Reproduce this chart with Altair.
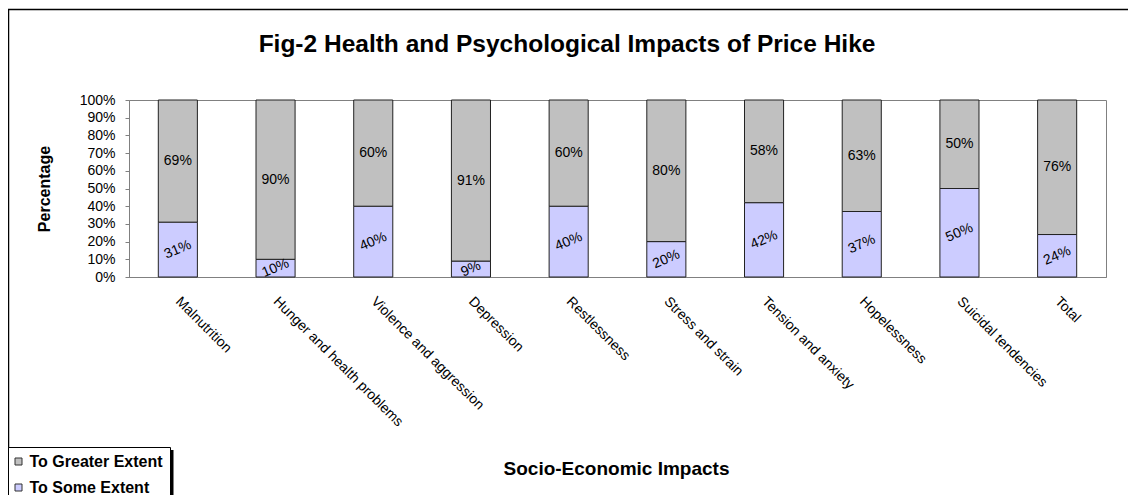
import altair as alt
import pandas as pd

categories = ["Malnutrition", "Hunger and health problems", "Violence and aggression",
              "Depression", "Restlessness", "Stress and strain", "Tension and anxiety",
              "Hopelessness", "Suicidal tendencies", "Total"]
some_extent = [31, 10, 40, 9, 40, 20, 42, 37, 50, 24]
greater_extent = [69, 90, 60, 91, 60, 80, 58, 63, 50, 76]
series = ["To Greater Extent", "To Some Extent"]
colors = ["#C0C0C0", "#CCCCFF"]
y_ticks = [0, 10, 20, 30, 40, 50, 60, 70, 80, 90, 100]
title_text = "Fig-2 Health and Psychological Impacts of Price Hike"

rows = []
for c, s, g in zip(categories, some_extent, greater_extent):
    rows.append({"category": c, "series": "To Some Extent", "value": s, "ord": 0})
    rows.append({"category": c, "series": "To Greater Extent", "value": g, "ord": 1})
df = pd.DataFrame(rows)

FONT = "Liberation Sans"

base = alt.Chart(df).transform_stack(
    stack="value", groupby=["category"], as_=["y0", "y1"],
    sort=[alt.SortField("ord", order="ascending")]
).transform_calculate(mid="(datum.y0 + datum.y1) / 2", label="datum.value + '%'")

yscale = alt.Scale(domain=[0, 100], nice=False)
xscale = alt.Scale(paddingInner=0.6, paddingOuter=0.3)

xaxis = alt.Axis(title="Socio-Economic Impacts", labelAngle=45, labelAlign="left",
                 labelBaseline="middle", labelPadding=22, ticks=False,
                 labelFontSize=14, labelFont=FONT, labelColor="#000",
                 domainColor="#808080", titleFont=FONT, titleFontSize=19,
                 titleFontWeight="bold", titleColor="#000", titleX=487, titleY=191,
                 titleBaseline="middle", titleAlign="center", labelLimit=400,
                 labelOverlap=False)
yaxis = alt.Axis(title="Percentage", values=y_ticks, labelExpr="datum.value + '%'",
                 grid=False, tickSize=4, labelPadding=10, labelFontSize=14,
                 labelFont=FONT, labelColor="#000", domainColor="#808080",
                 tickColor="#808080", titleFont=FONT, titleFontSize=16,
                 titleFontWeight="bold", titleColor="#000", titleX=-85,
                 titleBaseline="middle", labelOverlap=False)

bars = base.mark_bar(stroke="#222222", strokeWidth=1).encode(
    x=alt.X("category:N", sort=categories, scale=xscale, axis=xaxis),
    y=alt.Y("y0:Q", scale=yscale, axis=yaxis),
    y2="y1:Q",
    color=alt.Color("series:N", scale=alt.Scale(domain=series, range=colors),
                    legend=alt.Legend(title=None, orient="none", legendX=-118.5, legendY=353.5,
                                      padding=0, symbolType="square", symbolSize=49,
                                      symbolStrokeColor="#333", symbolStrokeWidth=1,
                                      labelFont=FONT, labelFontSize=16, labelFontWeight="bold",
                                      labelColor="#000", labelOffset=3, rowPadding=10,
                                      labelLimit=300)),
)

top_labels = base.transform_filter(alt.datum.series == "To Greater Extent").mark_text(
    font=FONT, fontSize=14, color="#000"
).encode(x=alt.X("category:N", sort=categories, scale=xscale, axis=xaxis),
         y=alt.Y("mid:Q", scale=yscale, axis=yaxis), text="label:N")

bottom_labels = base.transform_filter(alt.datum.series == "To Some Extent").mark_text(
    font=FONT, fontSize=14, color="#000", angle=337
).encode(x=alt.X("category:N", sort=categories, scale=xscale, axis=xaxis),
         y=alt.Y("mid:Q", scale=yscale, axis=yaxis), text="label:N")

frame_df = pd.DataFrame({"a": [0]})
frame = alt.Chart(frame_df).mark_rect(fill=None, stroke="#000", strokeWidth=1.5).encode(
    x=alt.value(-120.5), x2=alt.value(1030), y=alt.value(-90.5), y2=alt.value(430))
shadow = alt.Chart(frame_df).mark_rect(fill="#000").encode(
    x=alt.value(41.5), x2=alt.value(44.5), y=alt.value(350), y2=alt.value(420))
legend_box = alt.Chart(frame_df).mark_rect(fill="white", stroke="#000", strokeWidth=1).encode(
    x=alt.value(-120.5), x2=alt.value(41.5), y=alt.value(347.5), y2=alt.value(420))
title = alt.Chart(frame_df).mark_text(
    text=title_text, font=FONT, fontSize=24.5, fontWeight="bold", color="#000",
    align="center", baseline="alphabetic"
).encode(x=alt.value(438), y=alt.value(-48))

chart = alt.layer(frame, shadow, legend_box, title, bars, top_labels, bottom_labels).properties(
    width=977, height=177,
    autosize=alt.AutoSizeParams(type="none"),
    padding={"left": 121, "top": 92, "right": 22, "bottom": 218},
).configure(background="white", view=alt.ViewConfig(stroke="#808080", strokeWidth=1))

chart.save("out.html", embed_options={"renderer": "svg", "actions": False})
